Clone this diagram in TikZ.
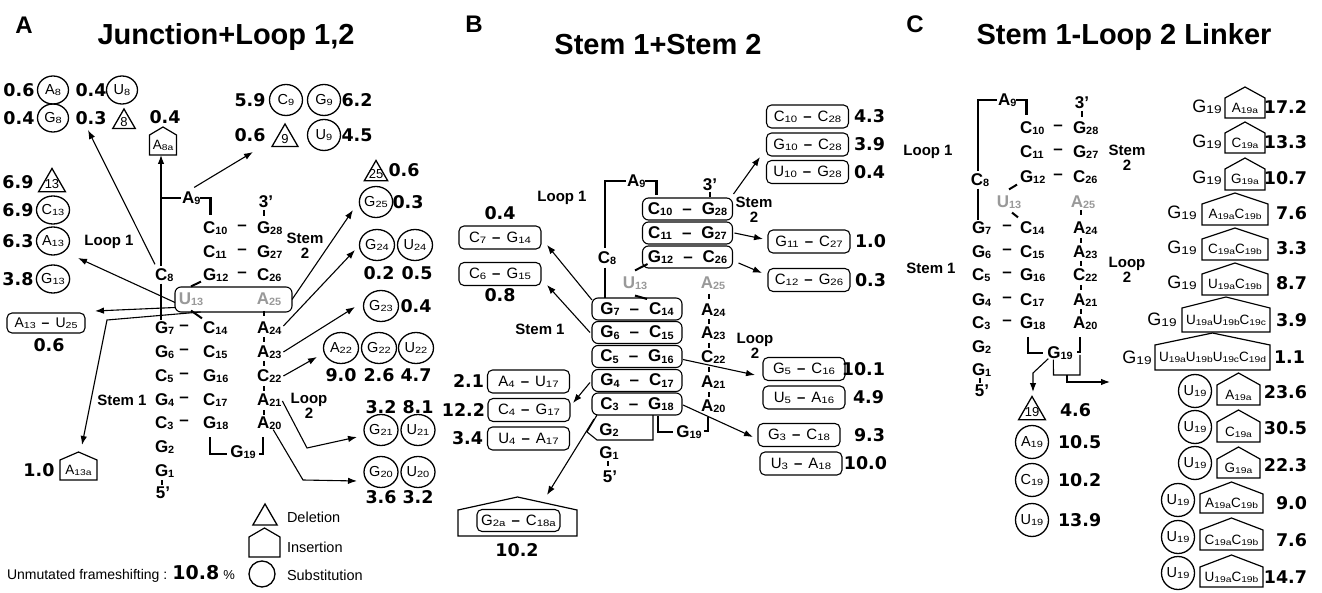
\documentclass[tikz,border=0pt]{standalone}
\usepackage{fontspec}
\setmainfont{Liberation Sans}
\newfontfamily\numfont{DejaVu Sans}
\usepackage{graphicx}
\usetikzlibrary{arrows.meta,shapes.geometric,calc}
\newcommand\fs[1]{\fontsize{#1}{#1}\selectfont}
\def\ixw{0.76}
\newcommand\ix[1]{\raisebox{-0.15ex}{\scalebox{\ixw}[0.62]{#1}}}
\newcommand\bp[2]{#1\hspace{6pt}{\bfseries –}\hspace{6pt}#2}
\newcommand\stp[2]{#1\hspace{10pt}–\hspace{10pt}#2}
\newcommand\house[7]{%
  \node[minimum width=#4pt, minimum height=#5pt, font=\fs{13.5}] (#1) at (#2,#3) {#7};
  \draw[line width=1.2pt] (#1.south west) -- (#1.north west) -- ([yshift=#6pt]#1.north) -- (#1.north east) -- (#1.south east) -- cycle;}
\newcommand\delnode[5]{%
  \node[dele=#4] (#1) at (#2,#3) {};
  \node[font=\fs{13}] (#1t) at (#1.center) {#5};}
\newcommand\tickat[3]{\draw[tick] (#1,#2) -- (#1,#3);}
\tikzset{
  every node/.style={inner sep=0pt, outer sep=0pt},
  st/.style={font=\fs{17}\bfseries\def\ixw{0.64}, anchor=west},
  stc/.style={font=\fs{17}\bfseries\def\ixw{0.64}},
  hol/.style={font=\fs{17}\bfseries\def\ixw{0.64}, text=black!40},
  val/.style={font=\numfont\bfseries\fs{17.5}},
  vale/.style={val, anchor=east},
  valw/.style={val, anchor=west},
  lab/.style={font=\fs{15}\bfseries, align=center},
  ttl/.style={font=\fs{29}\bfseries, anchor=base},
  pnl/.style={font=\fs{24}\bfseries, anchor=base},
  subst/.style={circle, draw, line width=1.3pt, minimum size=#1, font=\fs{14.5}},
  subst/.default=33pt,
  substA/.style={ellipse, draw, line width=1.3pt, minimum width=35pt, minimum height=31pt, font=\fs{14.5}},
  dele/.style={regular polygon, regular polygon sides=3, draw, line width=1.3pt, minimum size=#1},
  dele/.default=28pt,
  pairbox/.style={draw, rounded corners=5pt, line width=1.1pt, minimum width=82pt, minimum height=23pt, font=\fs{15}},
  sbox/.style={draw, rounded corners=6pt, line width=1.1pt, minimum width=90pt, minimum height=22pt, font=\fs{17}\bfseries\def\ixw{0.64}},
  arr/.style={-{Latex[length=9pt,width=6.5pt]}, line width=1.1pt},
  strand/.style={line width=2.8pt},
  fine/.style={line width=1.1pt},
  tick/.style={line width=2.6pt},
  leg/.style={font=\fs{14.5}, anchor=west},
  gtxt/.style={font=\fs{18}},
}
\begin{document}
\begin{tikzpicture}[x=1pt,y=-1pt]
\useasboundingbox (0,0) rectangle (1322,593);
\fill[white] (0,0) rectangle (1322,593);

%================ PANEL A ================
\node[pnl] (pA) at (24,34) {A};
\node[ttl] (tA) at (226,45) {Junction+Loop 1,2};

\node[val] (vA8) at (19,90) {0.6};
\node[substA, minimum width=31pt, minimum height=28pt] (sA8) at (53,90) {A\ix8};
\node[val] (vU8) at (91,90) {0.4};
\node[substA, minimum width=31pt, minimum height=28pt] (sU8) at (122,90) {U\ix8};
\node[val] (vG8) at (19,118) {0.4};
\node[substA, minimum width=31pt, minimum height=28pt] (sG8) at (53,118) {G\ix8};
\node[val] (vd8) at (91,118) {0.3};
\delnode{d8}{124}{122}{26pt}{8}

\node[val] (vA8a) at (165,117) {0.4};
\house{iA8a}{163}{145}{27}{20}{8}{A\ix{8a}}

\node[val] (vC9) at (250,100) {5.9};
\node[substA, minimum width=33pt, minimum height=31pt] (sC9) at (286,100) {C\ix9};
\node[substA, minimum width=33pt, minimum height=31pt] (sG9) at (324,100) {G\ix9};
\node[val] (vG9) at (357,100) {6.2};
\node[val] (vd9) at (250,135) {0.6};
\delnode{d9}{285}{139}{30pt}{9}
\node[substA, minimum width=33pt, minimum height=31pt] (sU9) at (324,135) {U\ix9};
\node[val] (vU9) at (357,135) {4.5};

\delnode{d13}{52}{184}{31pt}{13}
\node[val] (vd13) at (18,182) {6.9};
\node[substA, minimum width=33pt, minimum height=28pt] (sC13) at (53,210) {C\ix{13}};
\node[val] (vC13) at (18,210) {6.9};
\node[substA, minimum width=33pt, minimum height=28pt] (sA13) at (53,241) {A\ix{13}};
\node[val] (vA13) at (18,241) {6.3};
\node[substA, minimum width=33pt, minimum height=28pt] (sG13) at (53,279) {G\ix{13}};
\node[val] (vG13) at (18,279) {3.8};
\node[lab] (lA1) at (109,242) {Loop 1};

\node[pairbox, minimum width=78pt, minimum height=20pt, font=\fs{14}] (pA13) at (46,323) {\bp{A\ix{13}}{U\ix{25}}};
\node[val] (vpA13) at (49,345) {0.6};
\house{iA13a}{78.5}{470}{37}{20}{8}{A\ix{13a}}
\node[val] (viA13a) at (39,470) {1.0};

% stem A
\node[st] (aA9) at (182,198) {A\ix9};
\node[stc] (a3p) at (266,202) {3'};
\node[st] (aC10) at (203,228) {C\ix{10}};
\node[stc] (aD10) at (242,228) {–};
\node[st] (aG28) at (257,228) {G\ix{28}};
\node[st] (aC11) at (203,252) {C\ix{11}};
\node[stc] (aD11) at (242,252) {–};
\node[st] (aG27) at (257,252) {G\ix{27}};
\node[st] (aG12) at (203,275) {G\ix{12}};
\node[stc] (aD12) at (242,275) {–};
\node[st] (aC26) at (257,275) {C\ix{26}};
\node[st] (aC8) at (155,275) {C\ix8};
\node[draw, rounded corners=6pt, line width=1.1pt, minimum width=117pt, minimum height=25pt] (bx13) at (233.5,299.5) {};
\node[hol] (aU13) at (191,299) {U\ix{13}};
\node[hol] (aA25) at (269,299) {A\ix{25}};
\node[st] (aG7) at (155,328) {G\ix7};
\node[stc] (aD7) at (184,328) {–};
\node[st] (aC14) at (203,328) {C\ix{14}};
\node[st] (aA24) at (257,328) {A\ix{24}};
\node[st] (aG6) at (155,352) {G\ix6};
\node[stc] (aD6) at (184,352) {–};
\node[st] (aC15) at (203,352) {C\ix{15}};
\node[st] (aA23) at (257,352) {A\ix{23}};
\node[st] (aC5) at (155,376) {C\ix5};
\node[stc] (aD5) at (184,376) {–};
\node[st] (aG16) at (203,376) {G\ix{16}};
\node[st] (aC22) at (257,376) {C\ix{22}};
\node[st] (aG4) at (155,400) {G\ix4};
\node[stc] (aD4) at (184,400) {–};
\node[st] (aC17) at (203,400) {C\ix{17}};
\node[st] (aA21) at (257,400) {A\ix{21}};
\node[st] (aC3) at (155,423) {C\ix3};
\node[stc] (aD3) at (184,423) {–};
\node[st] (aG18) at (203,423) {G\ix{18}};
\node[st] (aA20) at (257,423) {A\ix{20}};
\node[st] (aG2) at (155,447) {G\ix2};
\node[st] (aG1) at (155,471) {G\ix1};
\node[stc] (a5p) at (163,493) {5'};
\node[stc] (aG19) at (243,452) {G\ix{19}};

\node[lab] (aS1) at (122,400) {Stem 1};
\node[lab] (aS2) at (305,245.5) {Stem\\2};
\node[lab] (aL2) at (309,405.5) {Loop\\2};

\coordinate (cA9) at (161,198);
\draw[strand] ([xshift=-1pt]aA9.west) -- (cA9) -- ([yshift=2pt]cA9 |- aC8.north);
\draw[strand] ([yshift=-2pt]cA9 |- aC8.south) -- ([yshift=1pt]cA9 |- aG7.north);
\draw[strand] (aA9.east) -- ++(10,0) -- ++(0,17);
\draw[line width=2pt] ([yshift=6pt]aU13.north) -- ([xshift=-2pt]aG12.south west);
\draw[line width=2pt] ([yshift=-5pt]aU13.south) -- ([xshift=-1pt,yshift=3pt]aC14.north west);
\draw[strand] (210,437) -- (210,454) -- (227,454);
\draw[strand] (259,454) -- (263,454) -- (263,437);
\tickat{264}{210}{216}
\tickat{264}{311}{316}
\tickat{264}{337}{342}
\tickat{264}{361}{366}
\tickat{264}{386}{391}
\tickat{264}{410}{415}
\tickat{162}{480}{485}

% right side A
\delnode{d25}{376}{174}{27pt}{25}
\node[val] (vd25) at (404,170) {0.6};
\node[substA, minimum width=33pt] (sG25) at (376,202) {G\ix{25}};
\node[val] (vG25) at (408,202) {0.3};
\node[substA] (sG24) at (377,245) {G\ix{24}};
\node[substA] (sU24) at (415,245) {U\ix{24}};
\node[val] (vG24) at (379,273) {0.2};
\node[val] (vU24) at (417,273) {0.5};
\node[substA] (sG23) at (381,306) {G\ix{23}};
\node[val] (vG23) at (416,306) {0.4};
\node[substA] (sA22) at (341,348) {A\ix{22}};
\node[substA] (sG22) at (379,348) {G\ix{22}};
\node[substA] (sU22) at (416,348) {U\ix{22}};
\node[val] (vA22) at (341,375) {9.0};
\node[val] (vG22) at (379,375) {2.6};
\node[val] (vU22) at (416,375) {4.7};
\node[val] (vG21) at (381,407) {3.2};
\node[val] (vU21) at (418,407) {8.1};
\node[substA, minimum width=34pt] (sG21) at (381,430) {G\ix{21}};
\node[substA, minimum width=34pt] (sU21) at (418,430) {U\ix{21}};
\node[substA, minimum width=34pt] (sG20) at (381,472) {G\ix{20}};
\node[substA, minimum width=34pt] (sU20) at (418,472) {U\ix{20}};
\node[val] (vG20) at (381,497) {3.6};
\node[val] (vU20) at (418,497) {3.2};

% arrows A
\coordinate (eA1) at (253,152);
\draw[arr] ([xshift=3pt,yshift=4pt]aA9.north) -- (eA1);
\coordinate (eA2) at (88,130);
\draw[arr] ([yshift=4pt]aC8.north west) -- (eA2);
\draw[arr] (cA9) -- (cA9 |- iA8a.south);
\coordinate (eA4) at (78,258);
\draw[arr] ([yshift=-3pt]bx13.west) -- (eA4);
\coordinate (eA5) at (95,311);
\draw[arr] ([yshift=-8pt]bx13.west) -- (eA5);
\coordinate (cA6) at (107,320);
\coordinate (eA6) at (82,445);
\draw[arr] ([xshift=-33pt]bx13.south) -- (cA6) -- (eA6);
\coordinate (eA7) at (353,210);
\draw[arr] (bx13.east) -- (eA7);
\coordinate (eA8) at (355,250);
\draw[arr] ([xshift=2pt,yshift=2pt]aA24.east) -- (eA8);
\coordinate (eA9) at (355,307);
\draw[arr] ([xshift=2pt]aA23.east) -- (eA9);
\coordinate (eA10) at (317,357);
\draw[arr] ([xshift=2pt]aC22.east) -- (eA10);
\coordinate (cA11) at (307,448);
\coordinate (eA11) at (357,437);
\draw[arr] ([xshift=1pt,yshift=-1pt]aA21.east) -- (cA11) -- (eA11);
\coordinate (cA12) at (303,480);
\coordinate (eA12) at (357,481);
\draw[arr] ([xshift=4pt]aA20.south) -- (cA12) -- (eA12);

% legend
\delnode{lgd}{265}{518}{28pt}{}
\node[leg] (lgdt) at (287,517) {Deletion};
\house{lgi}{264.5}{547}{31}{20}{9}{}
\node[leg] (lgit) at (287,547) {Insertion};
\node[subst=26pt] (lgs) at (262,574) {};
\node[leg] (lgst) at (287,575) {Substitution};
\node[font=\fs{14}, anchor=base west] (um) at (7,579) {Unmutated frameshifting : {\numfont\bfseries\fs{19}10.8} {\fs{13}\%}};

%================ PANEL B ================
\node[pnl] (pB) at (474,33) {B};
\node[ttl] (tB) at (658,55) {Stem 1+Stem 2};

\node[pairbox] (bC10C28) at (807.5,116.5) {\bp{C\ix{10}}{C\ix{28}}};
\node[vale] (vb1) at (885,116.5) {4.3};
\node[pairbox] (bG10C28) at (807.5,144.5) {\bp{G\ix{10}}{C\ix{28}}};
\node[vale] (vb2) at (885,144.5) {3.9};
\node[pairbox] (bU10G28) at (807.5,172) {\bp{U\ix{10}}{G\ix{28}}};
\node[vale] (vb3) at (885,172) {0.4};
\node[pairbox] (bG11C27) at (809,241.5) {\bp{G\ix{11}}{C\ix{27}}};
\node[vale] (vb4) at (886,241.5) {1.0};
\node[pairbox] (bC12G26) at (809,280) {\bp{C\ix{12}}{G\ix{26}}};
\node[vale] (vb5) at (886,280) {0.3};

\node[sbox] (bC10) at (687.5,209) {\stp{C\ix{10}}{G\ix{28}}};
\node[sbox] (bC11) at (687.5,233) {\stp{C\ix{11}}{G\ix{27}}};
\node[sbox] (bG12) at (687.5,257) {\stp{G\ix{12}}{C\ix{26}}};
\node[sbox] (bG7) at (637,309) {\stp{G\ix{7}}{C\ix{14}}};
\node[sbox] (bG6) at (637,332.5) {\stp{G\ix{6}}{C\ix{15}}};
\node[sbox] (bC5) at (637,356.5) {\stp{C\ix{5}}{G\ix{16}}};
\node[sbox] (bG4) at (637,380.5) {\stp{G\ix{4}}{C\ix{17}}};
\node[sbox] (bC3) at (637,404) {\stp{C\ix{3}}{G\ix{18}}};

\node[st] (bA9) at (627,181) {A\ix9};
\node[stc] (bC8) at (607,258) {C\ix8};
\coordinate (cB9) at (605,181);
\draw[strand] ([xshift=-1pt]bA9.west) -- (cB9) -- ([yshift=3pt]cB9 |- bC8.north);
\draw[strand] ([yshift=-3pt]cB9 |- bC8.south) -- (cB9 |- bG7.north);
\draw[strand] (bA9.east) -- ++(11,0) -- ++(0,14);
\node[stc] (b3p) at (710,185) {3'};
\tickat{710}{192}{197}
\node[hol] (bU13) at (635,283) {U\ix{13}};
\node[hol] (bA25) at (713,283) {A\ix{25}};
\draw[line width=2pt] ([yshift=6pt]bU13.north) -- ([xshift=-40pt,yshift=4pt]bG12.south);
\draw[line width=2pt] ([yshift=-6pt]bU13.south) -- ([xshift=10pt,yshift=-1pt]bG7.north);
\node[st] (bA24) at (701,310) {A\ix{24}};
\node[st] (bA23) at (701,333) {A\ix{23}};
\node[st] (bC22) at (701,357) {C\ix{22}};
\node[st] (bA21) at (701,382) {A\ix{21}};
\node[st] (bA20) at (701,406) {A\ix{20}};
\tickat{709}{294}{299}
\tickat{709}{319}{324}
\tickat{709}{343}{348}
\tickat{709}{367}{372}
\tickat{709}{392}{397}

\node[stc] (bG2) at (609,430) {G\ix2};
\node[stc] (bG1) at (609,453) {G\ix1};
\node[stc] (b5p) at (610,477) {5'};
\tickat{608}{461}{466}
\draw[fine] ([xshift=5pt]bC3.south west) -- (587,432) -- (597,440) -- (653,440) -- (653,415);
\node[stc] (bG19) at (689,432) {G\ix{19}};
\draw[strand] (658,416) -- (658,432) -- (673,432);
\draw[strand] (704,431) -- (708,431) -- (708,417);

\node[val] (vbC7) at (500,213) {0.4};
\node[pairbox] (bC7G14) at (500,237.5) {\bp{C\ix7}{G\ix{14}}};
\node[pairbox] (bC6G15) at (500,274) {\bp{C\ix6}{G\ix{15}}};
\node[val] (vbC6) at (500,295) {0.8};
\node[lab] (bL1) at (562,198) {Loop 1};
\node[lab] (bS1) at (540,329) {Stem 1};
\node[lab] (bS2) at (754,209.5) {Stem\\2};
\node[lab] (bL2) at (755,345.5) {Loop\\2};

\node[pairbox] (bA4U17) at (528.5,381.5) {\bp{A\ix4}{U\ix{17}}};
\node[pairbox] (bC4G17) at (529,410) {\bp{C\ix4}{G\ix{17}}};
\node[pairbox] (bU4A17) at (528.5,438.5) {\bp{U\ix4}{A\ix{17}}};
\node[vale] (vbA4) at (484,381.5) {2.1};
\node[vale] (vbC4) at (485,410) {12.2};
\node[vale] (vbU4) at (483,438.5) {3.4};

\node[pairbox] (bG5C16) at (804,369) {\bp{G\ix5}{C\ix{16}}};
\node[vale] (vb6) at (885,369) {10.1};
\node[pairbox] (bU5A16) at (804,397.5) {\bp{U\ix5}{A\ix{16}}};
\node[vale] (vb7) at (884,397.5) {4.9};
\node[pairbox] (bG3C18) at (799,435) {\bp{G\ix3}{C\ix{18}}};
\node[vale] (vb8) at (885,435) {9.3};
\node[pairbox] (bU3A18) at (801,463.5) {\bp{U\ix3}{A\ix{18}}};
\node[vale] (vb9) at (887,463.5) {10.0};

\house{bI}{517.5}{523}{119}{26}{13}{}
\node[pairbox, minimum width=83pt, minimum height=22pt] (bG2a) at (518.5,520.5) {\bp{G\ix{2a}}{C\ix{18a}}};
\node[val] (vbI) at (517,550) {10.2};

% arrows B
\coordinate (eB1) at (547,245);
\draw[arr] ([yshift=-2pt]bG7.north west) -- (eB1);
\coordinate (eB2) at (547,285);
\draw[arr] ([xshift=-2pt]bG6.west) -- (eB2);
\coordinate (eB3) at (573,403);
\draw[arr] ([xshift=-2pt,yshift=-2pt]bG4.west) -- (eB3);
\coordinate (eB4) at (547,495);
\draw[arr] ([xshift=2pt,yshift=-4pt]bC3.south west) -- (eB4);
\coordinate (eB5) at (760,157);
\draw[arr] ([xshift=1pt,yshift=4pt]bC10.north east) -- (eB5);
\coordinate (eB6) at (763,239);
\draw[arr] ([xshift=2pt]bC11.east) -- (eB6);
\coordinate (eB7) at (762,273);
\draw[arr] ([xshift=6pt,yshift=-6pt]bG12.east) -- (eB7);
\coordinate (eB8) at (755,375);
\draw[arr] ([xshift=1pt,yshift=-3pt]bC5.east) -- (eB8);
\coordinate (eB9) at (753,437);
\draw[arr] ([xshift=1pt,yshift=-1pt]bC3.east) -- (eB9);

%================ PANEL C ================
\node[pnl] (pC) at (915,33) {C};
\node[ttl] (tC) at (1124,45) {Stem 1-Loop 2 Linker};

\node[st] (cA9) at (998,100) {A\ix9};
\node[stc] (cC8) at (980,180) {C\ix8};
\node[st] (cG7) at (972,228) {G\ix7};
\coordinate (cC9) at (978,100);
\draw[strand] ([xshift=-1pt]cA9.west) -- (cC9) -- ([yshift=2pt]cC9 |- cC8.north);
\draw[strand] ([yshift=-2pt]cC9 |- cC8.south) -- ([yshift=1pt]cC9 |- cG7.north);
\draw[strand] (cA9.east) -- ++(10,0) -- ++(0,15);
\node[stc] (c3p) at (1082,103) {3'};
\tickat{1082}{111}{117}
\node[st] (cC10) at (1020,128) {C\ix{10}};
\node[stc] (cD10) at (1058,128) {–};
\node[st] (cG28) at (1073,128) {G\ix{28}};
\node[st] (cC11) at (1020,152) {C\ix{11}};
\node[stc] (cD11) at (1058,152) {–};
\node[st] (cG27) at (1073,152) {G\ix{27}};
\node[st] (cG12) at (1020,177) {G\ix{12}};
\node[stc] (cD12) at (1058,177) {–};
\node[st] (cC26) at (1073,177) {C\ix{26}};
\node[hol] (cU13) at (1009,202) {U\ix{13}};
\node[hol] (cA25) at (1083,202) {A\ix{25}};
\node[stc] (cD7) at (1007,228) {–};
\node[st] (cC14) at (1020,228) {C\ix{14}};
\node[st] (cA24) at (1073,228) {A\ix{24}};
\draw[line width=2pt] ([yshift=6pt]cU13.north) -- ([xshift=-3pt,yshift=-1pt]cG12.south west);
\draw[line width=2pt] ([xshift=3pt,yshift=-4pt]cU13.south) -- ([xshift=-2pt,yshift=4pt]cC14.north west);
\node[st] (cG6) at (972,252) {G\ix6};
\node[stc] (cD6) at (1007,252) {–};
\node[st] (cC15) at (1020,252) {C\ix{15}};
\node[st] (cA23) at (1073,252) {A\ix{23}};
\node[st] (cC5) at (972,275) {C\ix5};
\node[stc] (cD5) at (1007,275) {–};
\node[st] (cG16) at (1020,275) {G\ix{16}};
\node[st] (cC22) at (1073,275) {C\ix{22}};
\node[st] (cG4) at (972,300) {G\ix4};
\node[stc] (cD4) at (1007,300) {–};
\node[st] (cC17) at (1020,300) {C\ix{17}};
\node[st] (cA21) at (1073,300) {A\ix{21}};
\node[st] (cC3) at (972,323) {C\ix3};
\node[stc] (cD3) at (1007,323) {–};
\node[st] (cG18) at (1020,323) {G\ix{18}};
\node[st] (cA20) at (1073,323) {A\ix{20}};
\node[st] (cG2) at (972,347) {G\ix2};
\node[st] (cG1) at (972,370) {G\ix1};
\node[stc] (c5p) at (982,391) {5'};
\tickat{980}{378}{383}
\tickat{1081}{210}{215}
\tickat{1081}{238}{243}
\tickat{1081}{261}{266}
\tickat{1081}{285}{290}
\tickat{1081}{309}{314}

\node[lab] (cL1) at (928,152) {Loop 1};
\node[lab] (cS1) at (931,268) {Stem 1};
\node[lab] (cS2) at (1127,157.5) {Stem\\2};
\node[lab] (cL2) at (1127,269.5) {Loop\\2};

\node[stc] (cG19) at (1060,353) {G\ix{19}};
\draw[strand] (1028,337) -- (1028,353) -- (1043,353);
\draw[strand] (1077,352) -- (1080,352) -- (1080,337);
\coordinate (cX1) at (1033,373);
\coordinate (eC1) at (1033,392);
\draw[arr] ([xshift=1pt,yshift=1pt]cG19.south west) -- (cX1) -- (eC1);
\draw[fine] ([xshift=6pt]cG19.south west) -- (1053.5,375) -- (1080,375) -- (1080,355);
\coordinate (cX3) at (1067,375);
\coordinate (eC3) at (1110,382);
\draw[arr] (cX3) -- (cX3 |- eC3) -- (eC3);

\delnode{d19}{1032}{412}{31pt}{19}
\node[valw] (vd19) at (1060,410) {4.6};
\node[subst] (sA19) at (1032,442) {A\ix{19}};
\node[valw] (vA19) at (1058,442) {10.5};
\node[subst] (sC19) at (1032,480) {C\ix{19}};
\node[valw] (vC19) at (1058,480) {10.2};
\node[subst] (sU19) at (1032,520) {U\ix{19}};
\node[valw] (vU19) at (1058,520) {13.9};

% insertion list
\node[gtxt] (g1) at (1207,107) {G\ix{19}};
\house{h1}{1245}{108}{40}{20}{11}{A\ix{19a}}
\node[vale] (v1) at (1307,107) {17.2};
\node[gtxt] (g2) at (1207,142) {G\ix{19}};
\house{h2}{1245}{143}{40}{20}{11}{C\ix{19a}}
\node[vale] (v2) at (1307,142) {13.3};
\node[gtxt] (g3) at (1207,178) {G\ix{19}};
\house{h3}{1245}{179.5}{40}{21}{11}{G\ix{19a}}
\node[vale] (v3) at (1307,178) {10.7};
\node[gtxt] (g4) at (1182,213) {G\ix{19}};
\house{h4}{1235}{214.5}{66}{21}{11}{A\ix{19a}C\ix{19b}}
\node[vale] (v4) at (1307,213) {7.6};
\node[gtxt] (g5) at (1182,248) {G\ix{19}};
\house{h5}{1235}{249.5}{66}{21}{11}{C\ix{19a}C\ix{19b}}
\node[vale] (v5) at (1307,248) {3.3};
\node[gtxt] (g6) at (1182,283) {G\ix{19}};
\house{h6}{1235}{284.5}{66}{21}{11}{U\ix{19a}C\ix{19b}}
\node[vale] (v6) at (1307,283) {8.7};
\node[gtxt] (g7) at (1162,320) {G\ix{19}};
\house{h7}{1226}{320}{88}{24}{11}{U\ix{19a}U\ix{19b}C\ix{19c}}
\node[vale] (v7) at (1307,320) {3.9};
\node[gtxt] (g8) at (1137,357.5) {G\ix{19}};
\house{h8}{1212.5}{357.5}{115}{25}{12}{U\ix{19a}U\ix{19b}U\ix{19c}C\ix{19d}}
\node[vale] (v8) at (1305,357) {1.1};

\node[subst] (u9) at (1195,391) {U\ix{19}};
\house{h9}{1238.5}{395}{43}{20}{12}{A\ix{19a}}
\node[vale] (v9) at (1307,392) {23.6};
\node[subst] (u10) at (1195,427) {U\ix{19}};
\house{h10}{1238.5}{432}{43}{20}{12}{C\ix{19a}}
\node[vale] (v10) at (1307,428) {30.5};
\node[subst] (u11) at (1195,463) {U\ix{19}};
\house{h11}{1238.5}{468.5}{43}{19}{12}{G\ix{19a}}
\node[vale] (v11) at (1307,465) {22.3};
\node[subst] (u12) at (1178,500) {U\ix{19}};
\house{h12}{1231.5}{503.5}{63}{19}{12}{A\ix{19a}C\ix{19b}}
\node[vale] (v12) at (1307,503) {9.0};
\node[subst] (u13) at (1178,537) {U\ix{19}};
\house{h13}{1231.5}{540}{63}{20}{12}{C\ix{19a}C\ix{19b}}
\node[vale] (v13) at (1307,540) {7.6};
\node[subst] (u14) at (1178,573) {U\ix{19}};
\house{h14}{1231.5}{577}{63}{20}{12}{U\ix{19a}C\ix{19b}}
\node[vale] (v14) at (1307,577) {14.7};
\end{tikzpicture}
\end{document}
